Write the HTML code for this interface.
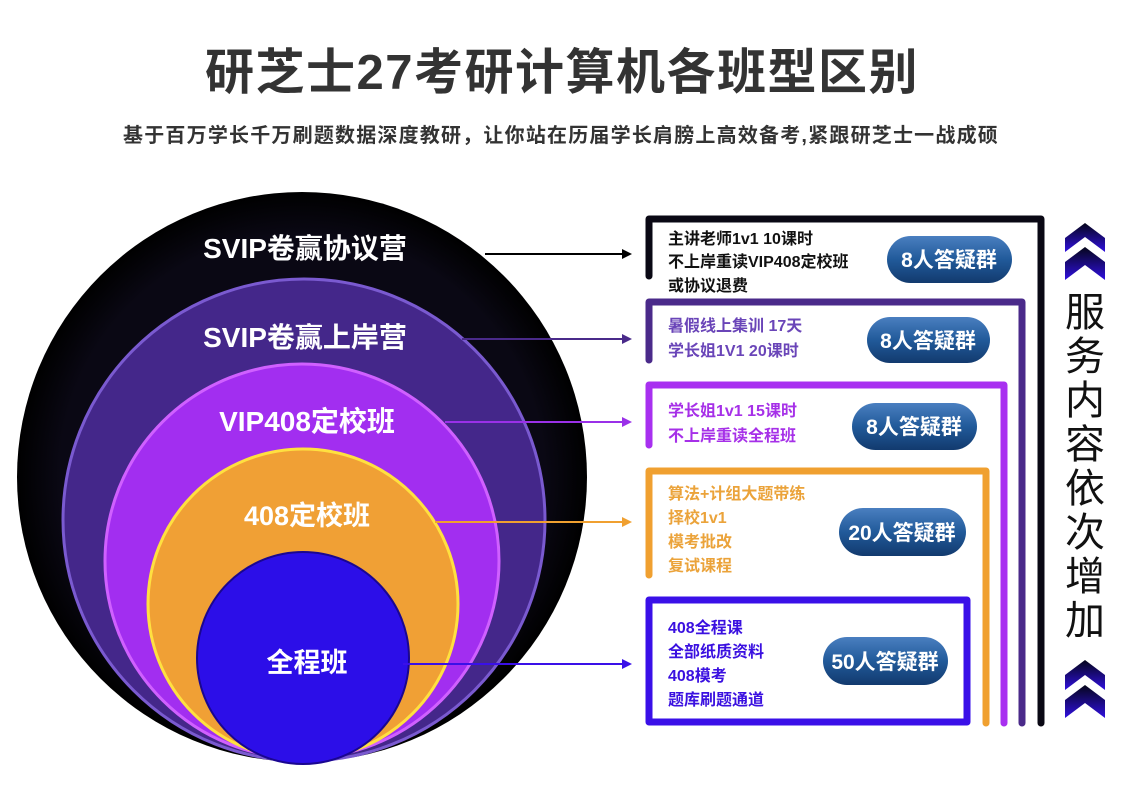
<!DOCTYPE html>
<html><head><meta charset="utf-8"><style>
html,body{margin:0;padding:0;background:#fff;}
body{width:1125px;height:801px;overflow:hidden;}
text{font-family:"Liberation Sans","Noto Sans CJK SC",sans-serif;}
</style></head><body>
<svg width="1125" height="801" viewBox="0 0 1125 801" xmlns="http://www.w3.org/2000/svg">
<defs>
<linearGradient id="pill" x1="0" y1="0" x2="0" y2="1">
<stop offset="0" stop-color="#4a7fc0"/><stop offset="0.5" stop-color="#215a9a"/><stop offset="1" stop-color="#123a6e"/>
</linearGradient>
<linearGradient id="chev" x1="0" y1="0" x2="0" y2="1">
<stop offset="0" stop-color="#05051a"/><stop offset="1" stop-color="#3010e0"/>
</linearGradient>
<radialGradient id="gb" cx="0.5" cy="0.5" r="0.5"><stop offset="0.85" stop-color="#0a0814"/><stop offset="1" stop-color="#000"/></radialGradient>
</defs>
<text x="562" y="89" text-anchor="middle" font-size="49" font-weight="bold" fill="#333" letter-spacing="1.5">研芝士27考研计算机各班型区别</text>
<text x="561" y="142" text-anchor="middle" font-size="20" font-weight="bold" fill="#333" letter-spacing="1.2">基于百万学长千万刷题数据深度教研，让你站在历届学长肩膀上高效备考,紧跟研芝士一战成硕</text>

<circle cx="302" cy="477" r="285" fill="url(#gb)"/>
<circle cx="304" cy="520" r="241" fill="#44278a" stroke="#7a5ad0" stroke-width="3"/>
<circle cx="302" cy="561" r="197" fill="#a22ef0" stroke="#d060ff" stroke-width="3"/>
<circle cx="303" cy="604" r="155" fill="#f0a035" stroke="#ffe040" stroke-width="3"/>
<circle cx="303" cy="658" r="106" fill="#2c0ee8" stroke="#1a0690" stroke-width="2"/>

<g font-weight="bold" fill="#fff" text-anchor="middle">
<text x="305" y="258" font-size="28">SVIP卷赢协议营</text>
<text x="305" y="347" font-size="28">SVIP卷赢上岸营</text>
<text x="307" y="431" font-size="28">VIP408定校班</text>
<text x="307" y="525" font-size="27">408定校班</text>
<text x="307" y="672" font-size="27">全程班</text>
</g>

<g stroke-width="2">
<line x1="485" y1="254" x2="624" y2="254" stroke="#000"/><polygon points="632,254 622,249 622,259" fill="#000"/>
<line x1="462" y1="339" x2="624" y2="339" stroke="#4a2a8a"/><polygon points="632,339 622,334 622,344" fill="#4a2a8a"/>
<line x1="445" y1="422" x2="624" y2="422" stroke="#9a30e8"/><polygon points="632,422 622,417 622,427" fill="#9a30e8"/>
<line x1="435" y1="522" x2="624" y2="522" stroke="#f0a030"/><polygon points="632,522 622,517 622,527" fill="#f0a030"/>
<line x1="403" y1="664" x2="624" y2="664" stroke="#3a10e8"/><polygon points="632,664 622,659 622,669" fill="#3a10e8"/>
</g>

<g fill="none" stroke-width="7" stroke-linecap="round" stroke-linejoin="round">
<polyline points="649,276 649,219 1041,219 1041,723" stroke="#0a0814"/>
<polyline points="649,360 649,302 1022,302 1022,723" stroke="#4a2a8a"/>
<polyline points="649,445 649,385 1004,385 1004,723" stroke="#a830f0"/>
<polyline points="649,575 649,471 986,471 986,723" stroke="#f0a030"/>
<rect x="649" y="600" width="318" height="122" stroke="#3a10e8"/>
</g>

<g font-weight="bold" font-size="16">
<text x="668" y="244" fill="#111">主讲老师1v1 10课时</text>
<text x="668" y="267" fill="#111">不上岸重读VIP408定校班</text>
<text x="668" y="291" fill="#111">或协议退费</text>
<text x="668" y="331" fill="#6a45b8">暑假线上集训 17天</text>
<text x="668" y="356" fill="#6a45b8">学长姐1V1 20课时</text>
<text x="668" y="416" fill="#a630e8">学长姐1v1 15课时</text>
<text x="668" y="441" fill="#a630e8">不上岸重读全程班</text>
<text x="668" y="499" fill="#eba33a">算法+计组大题带练</text>
<text x="668" y="523" fill="#eba33a">择校1v1</text>
<text x="668" y="547" fill="#eba33a">模考批改</text>
<text x="668" y="571" fill="#eba33a">复试课程</text>
<text x="668" y="633" fill="#3a10e0">408全程课</text>
<text x="668" y="657" fill="#3a10e0">全部纸质资料</text>
<text x="668" y="681" fill="#3a10e0">408模考</text>
<text x="668" y="705" fill="#3a10e0">题库刷题通道</text>
</g>

<g>
<rect x="887" y="236" width="125" height="47" rx="23.5" fill="url(#pill)"/>
<rect x="867" y="317" width="123" height="46" rx="23" fill="url(#pill)"/>
<rect x="852" y="403" width="125" height="47" rx="23.5" fill="url(#pill)"/>
<rect x="839" y="508" width="127" height="48" rx="24" fill="url(#pill)"/>
<rect x="823" y="637" width="125" height="48" rx="24" fill="url(#pill)"/>
</g>
<g font-weight="bold" font-size="21" fill="#fff" text-anchor="middle">
<text x="949" y="267">8人答疑群</text>
<text x="928" y="348">8人答疑群</text>
<text x="914" y="434">8人答疑群</text>
<text x="902" y="540">20人答疑群</text>
<text x="885" y="669">50人答疑群</text>
</g>

<g fill="url(#chev)">
<polygon points="1065,238 1085,223 1105,238 1105,252 1085,237 1065,252"/>
<polygon points="1065,262 1085,247 1105,262 1105,280 1085,265 1065,280"/>
<polygon points="1065,675 1085,660 1105,675 1105,690 1085,675 1065,690"/>
<polygon points="1065,700 1085,685 1105,700 1105,718 1085,703 1065,718"/>
</g>
<g font-size="40" fill="#111" text-anchor="middle">
<text x="1085" y="326">服</text>
<text x="1085" y="370">务</text>
<text x="1085" y="414">内</text>
<text x="1085" y="458">容</text>
<text x="1085" y="502">依</text>
<text x="1085" y="546">次</text>
<text x="1085" y="590">增</text>
<text x="1085" y="634">加</text>
</g>
</svg>
</body></html>
